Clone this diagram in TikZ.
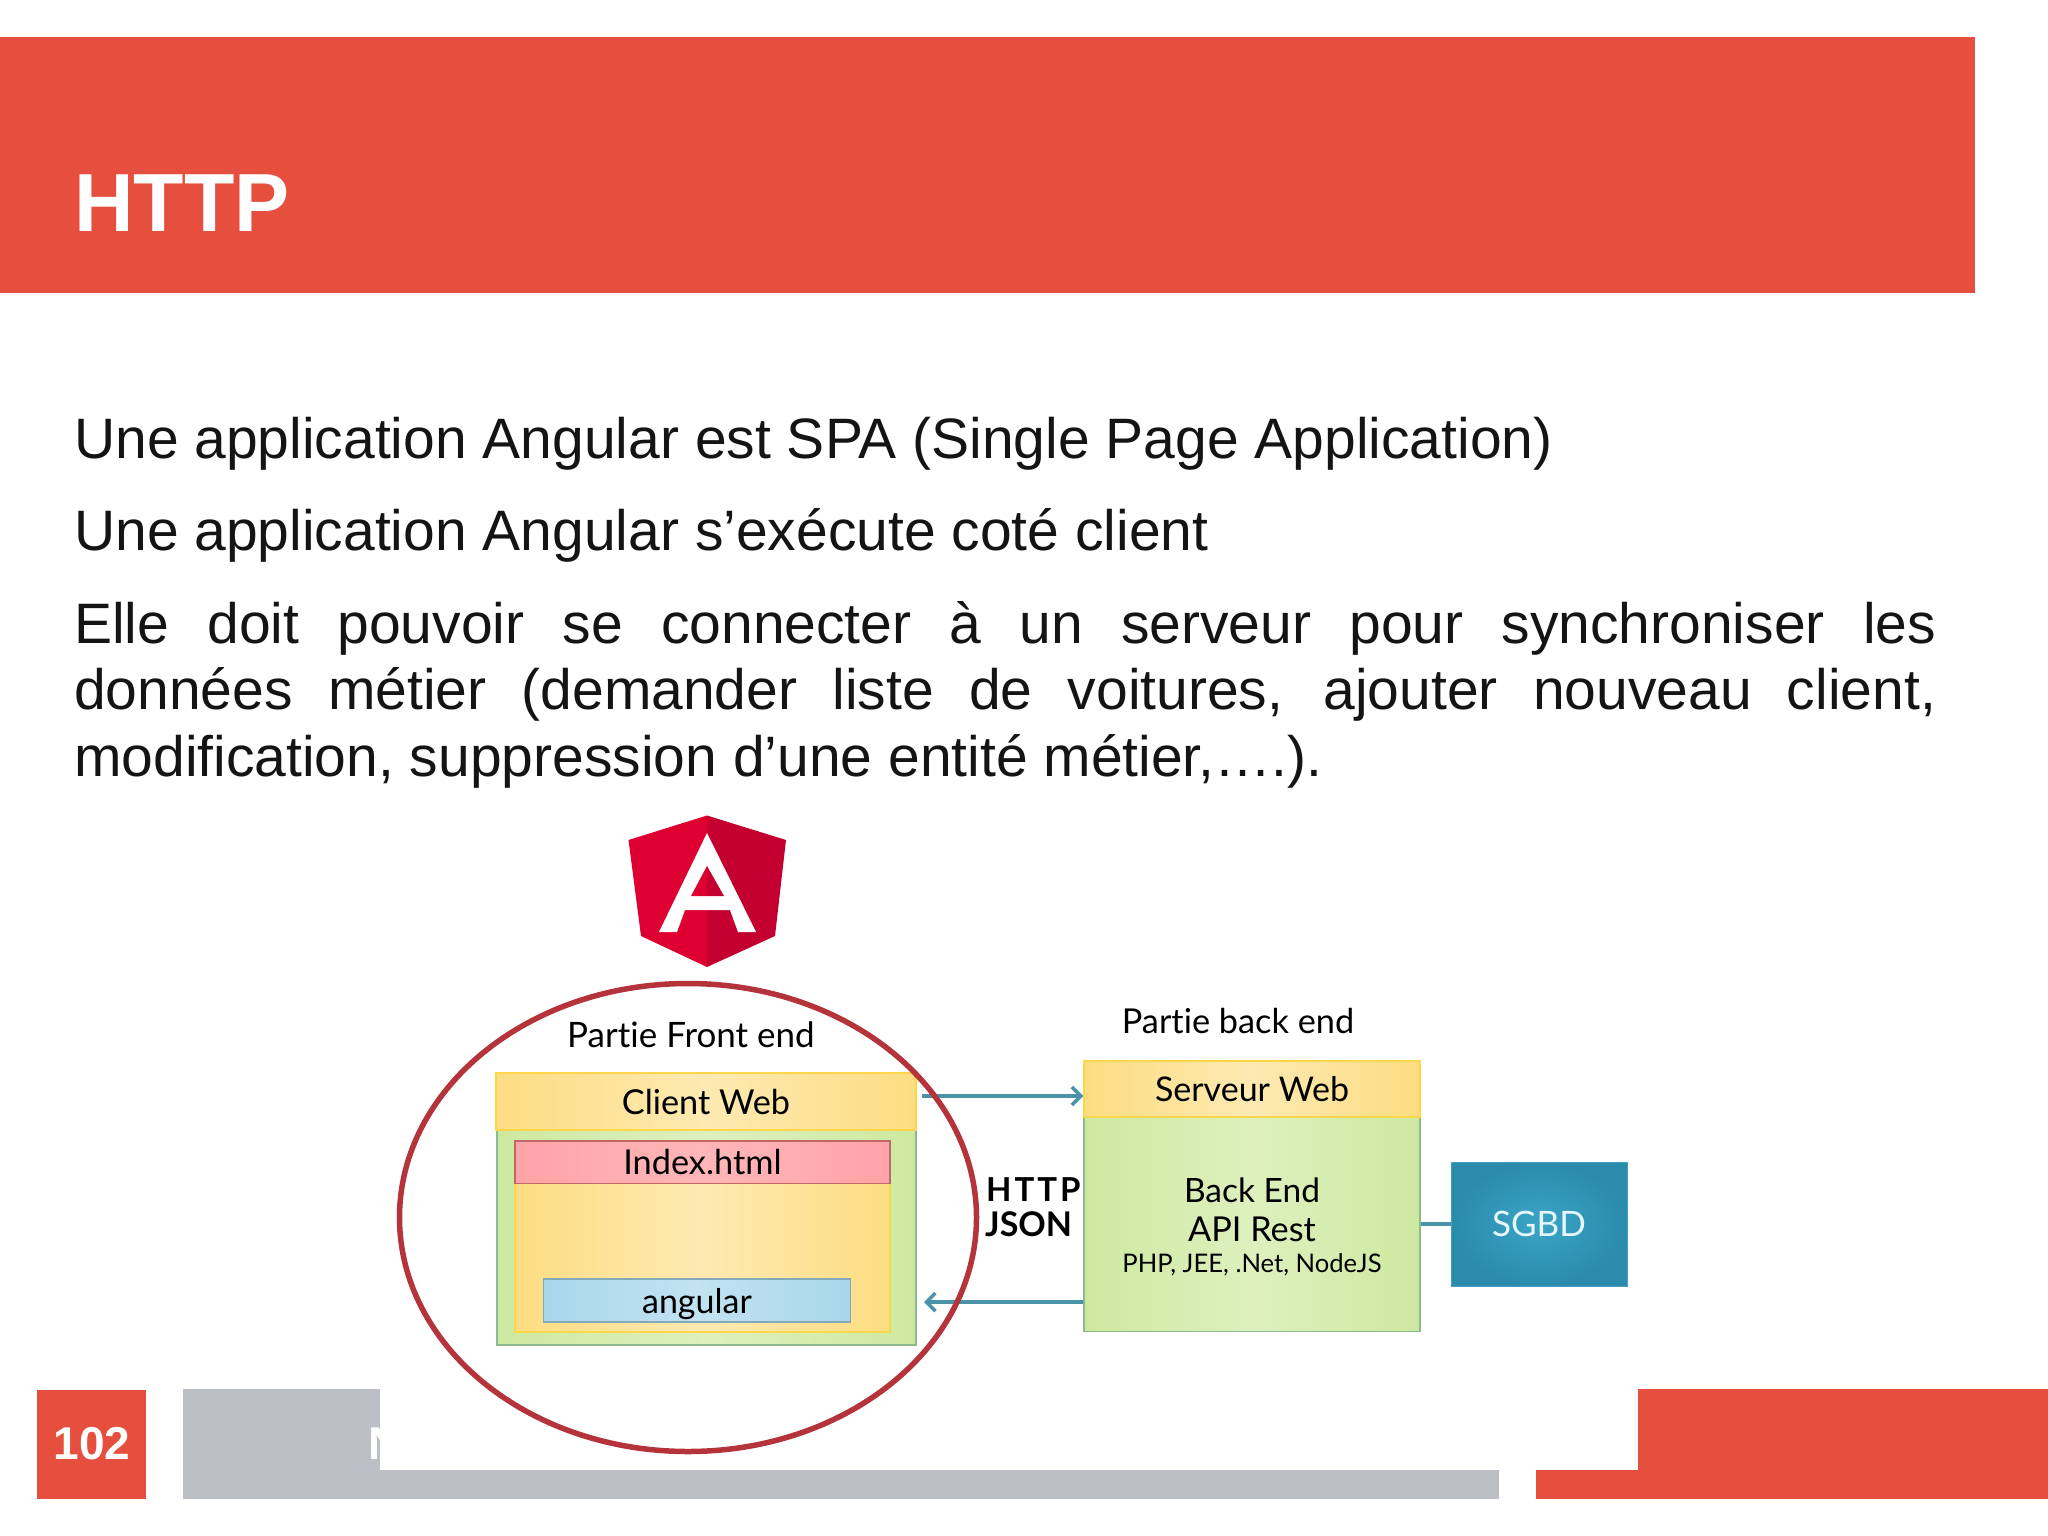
\documentclass[tikz,border=0pt]{standalone}
\usepackage{fontspec}
\setmainfont{Liberation Sans}
\newfontfamily\gillfont[Ligatures=NoCommon]{Lato}
\newfontfamily\gillwide[LetterSpace=9]{Lato}
\usetikzlibrary{arrows.meta,shapes.geometric}
\definecolor{slidered}{HTML}{E64E3D}
\definecolor{slidegray}{HTML}{BCBFC6}
\definecolor{linkteal}{HTML}{4A93A8}
\definecolor{logoleft}{HTML}{DD0031}
\definecolor{logoright}{HTML}{C3002F}
\definecolor{ringred}{HTML}{B5333A}
\definecolor{yellowedge}{HTML}{FDDD82}
\definecolor{yellowmid}{HTML}{FDE9B2}
\definecolor{greenedge}{HTML}{CDE9A0}
\definecolor{greenmid}{HTML}{DDF0BE}
\definecolor{pinkedge}{HTML}{FFA3A8}
\definecolor{pinkmid}{HTML}{FFB6B8}
\definecolor{blueedge}{HTML}{A8D6EA}
\definecolor{bluemid}{HTML}{C2E3F1}
\definecolor{sgbdedge}{HTML}{2A8BAB}
\definecolor{sgbdmid}{HTML}{3BA5C6}
\tikzset{
  boxlabel/.style={font=\gillfont\fontsize{#1}{#1}\selectfont,inner sep=0,text height=25pt,text depth=0pt},
  freelabel/.style={font=\gillfont\fontsize{#1}{#1}\selectfont,inner sep=0,anchor=base},
  bodytext/.style={anchor=base west,inner sep=0,text=black!92,font=\fontsize{57}{66.6}\selectfont},
  yellowbox/.style={left color=yellowedge,right color=yellowedge,middle color=yellowmid,draw=yellow!60!orange!70!white,line width=1.5pt},
  greenbox/.style={left color=greenedge,right color=greenedge,middle color=greenmid,draw=green!40!black!45!white,line width=1.5pt},
  link/.style={draw=linkteal,line width=3.5pt},
}
\begin{document}
\begin{tikzpicture}[x=1pt,y=-1pt]
\useasboundingbox (0,0) rectangle (2048,1536);
% header
\fill[slidered] (0,37) rectangle (1975,293);
\node[anchor=base west,inner sep=0,text=white,font=\bfseries\fontsize{82.5}{82.5}\selectfont] (title) at (74,231) {HTTP};
% body text
\node[bodytext] (lineone) at (74,458) {Une application Angular est SPA (Single Page Application)};
\node[bodytext] (linetwo) at (74,550) {Une application Angular s’exécute coté client};
\node[bodytext,text width=1862pt,align=justify] (para) at (74,643) {Elle doit pouvoir se connecter à un serveur pour synchroniser les\linebreak données métier (demander liste de voitures, ajouter nouveau client,\linebreak modification, suppression d’une entité métier,….).};
% footer
\fill[slidered] (37,1390) rectangle (146,1499);
\node[text=white,inner sep=0,anchor=base,font=\bfseries\fontsize{46}{46}\selectfont] (pagenum) at (92,1459) {102};
\fill[slidegray] (183,1389) rectangle (1499,1499);
\fill[slidered] (1536,1389) rectangle (2048,1499);
\node[text=white,inner sep=0,anchor=base west,font=\bfseries\fontsize{46}{46}\selectfont] (footer) at (368,1459) {N};
\fill[white] (380,1380) rectangle (1638,1470);
% logo
\fill[logoleft] (707,815.5)--(628.5,840)--(641,936)--(707,967)--cycle;
\fill[logoright] (707,815.5)--(786,840)--(775,936)--(707,967)--cycle;
\fill[white] (707,833)--(659,932)--(677,932)--(685,910)--(730,910)--(738,932)--(756,932)--cycle;
\fill[logoleft] (707,866)--(691,896)--(707,896)--cycle;
\fill[logoright] (707,866)--(724,896)--(707,896)--cycle;
% front end
\node[freelabel=35] (frontlabel) at (691,1047.5) {Partie Front end};
\node[greenbox,minimum width=419pt,minimum height=215pt,inner sep=0] (clientbody) at (706.5,1237.5) {};
\node[yellowbox,minimum width=420pt,minimum height=57pt,boxlabel=34.3] (client) at (706,1101.5) {Client Web};
\node[yellowbox,minimum width=375pt,minimum height=149pt,inner sep=0] (appbody) at (702.5,1257.5) {};
\node[left color=pinkedge,right color=pinkedge,middle color=pinkmid,draw=red!60!black!60!white,line width=1.5pt,minimum width=375pt,minimum height=42.5pt,boxlabel=34.3] (index) at (702.5,1162) {Index.html};
\node[left color=blueedge,right color=blueedge,middle color=bluemid,draw=cyan!50!black!60!white,line width=1.5pt,minimum width=307pt,minimum height=43pt,boxlabel=34] (angular) at (697,1300.5) {angular};
% back end
\node[freelabel=34.3] (backlabel) at (1238,1033) {Partie back end};
\node[greenbox,minimum width=336pt,minimum height=215pt,inner sep=0] (backend) at (1252,1224) {};
\node[yellowbox,minimum width=336pt,minimum height=56pt,boxlabel=34] (serveur) at (1252,1089) {Serveur Web};
\node[freelabel=33.5] (backname) at (1252,1202.5) {Back End};
\node[freelabel=34.3] (apiname) at (1252,1241) {API Rest};
\node[freelabel=25.6] (techname) at (1252,1272) {PHP, JEE, .Net, NodeJS};
\node[inner color=sgbdmid,outer color=sgbdedge,draw=cyan!30!sgbdmid,line width=1pt,minimum width=176pt,minimum height=124pt,inner sep=0,text=white!90!cyan,boxlabel=35] (sgbd) at (1539,1224) {SGBD};
\node[anchor=base west,inner sep=0,font=\gillwide\bfseries\fontsize{33}{33}\selectfont] (http) at (986,1201) {HTTP};
\node[anchor=base west,inner sep=0,font=\gillfont\bfseries\fontsize{34}{34}\selectfont] (json) at (985,1236) {JSON};
% links
\coordinate (reqstart) at (922,1096);
\coordinate (respend) at (924,1302);
\draw[link,-{Straight Barb[length=9pt,width=18pt]}] (reqstart) -- (serveur.west |- reqstart);
\draw[link,-{Straight Barb[length=9pt,width=18pt]}] (backend.west |- respend) -- (respend);
\draw[link] (backend.east |- sgbd.west) -- (sgbd.west);
% circle around front end
\node[ellipse,draw=ringred,line width=5.5pt,minimum width=577pt,minimum height=468pt,inner sep=0,outer sep=0] (frontcircle) at (688,1217.5) {};
\end{tikzpicture}
\end{document}
